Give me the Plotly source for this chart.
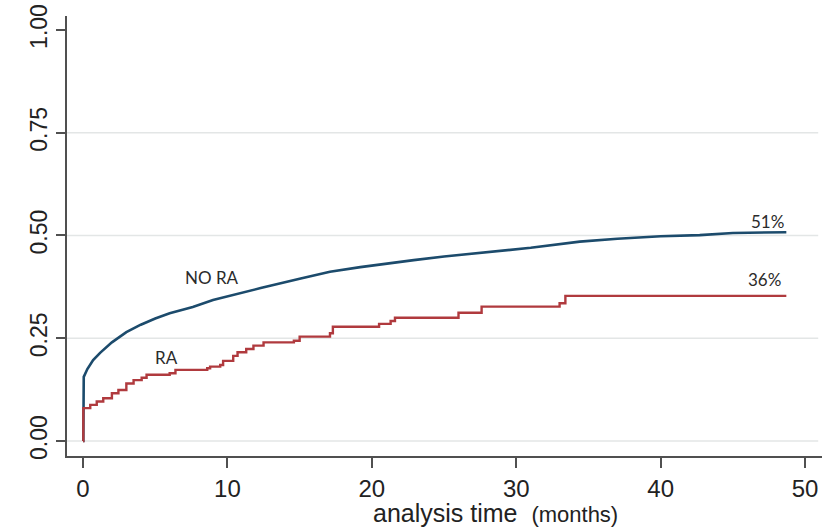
import plotly.graph_objects as go

# ---- data ----
no_ra_time = [0, 0.02, 0.05, 0.3, 0.7, 1.2, 2, 3, 4, 5, 6, 7.6, 9, 10, 12.3, 15, 17.1,
              19.2, 21, 22.9, 25, 28.65, 31, 34.4, 37, 40, 42.7, 45, 48.7]
no_ra_value = [0, 0.0, 0.156, 0.175, 0.197, 0.215, 0.24, 0.265, 0.283, 0.298, 0.311, 0.326,
               0.343, 0.352, 0.372, 0.395, 0.412, 0.423, 0.432, 0.44, 0.449, 0.461, 0.47,
               0.485, 0.492, 0.498, 0.501, 0.506, 0.508]

ra_time = [0, 0.02, 0.5, 0.95, 1.4, 2.0, 2.45, 3.0, 3.5, 4.06, 4.4, 6.0, 6.4, 8.6, 8.8,
           9.5, 9.7, 10.4, 10.7, 11.3, 11.8, 12.5, 14.6, 15.0, 17.1, 17.3, 20.5, 21.3,
           21.6, 26.0, 27.6, 33.0, 33.4, 48.7]
ra_value = [0, 0.080, 0.088, 0.096, 0.104, 0.116, 0.124, 0.140, 0.148, 0.154, 0.161, 0.165,
            0.173, 0.177, 0.181, 0.185, 0.195, 0.207, 0.216, 0.224, 0.232, 0.240, 0.244,
            0.254, 0.262, 0.278, 0.285, 0.292, 0.300, 0.312, 0.327, 0.335, 0.353, 0.353]

x_ticks = [0, 10, 20, 30, 40, 50]
y_ticks = [0, 0.25, 0.5, 0.75, 1.0]
y_tick_text = ["0.00", "0.25", "0.50", "0.75", "1.00"]
grid_values = [0, 0.25, 0.5, 0.75]

labels = [
    ("NO RA", 8.9, 0.397),
    ("RA", 5.75, 0.204),
    ("51%", 47.4, 0.535),
    ("36%", 47.2, 0.392),
]

BLUE = "#1c4b6c"
RED = "#b03a3e"
AXIS = "#505050"

fig = go.Figure()
fig.add_trace(go.Scatter(x=no_ra_time, y=no_ra_value, mode="lines",
                         line=dict(color=BLUE, width=2.6), name="NO RA"))
fig.add_trace(go.Scatter(x=ra_time, y=ra_value, mode="lines",
                         line=dict(color=RED, width=2.4, shape="hv"), name="RA"))

for g in grid_values:
    fig.add_shape(type="line", xref="paper", yref="y", x0=0, x1=0.995, y0=g, y1=g,
                  line=dict(color="#e3e6e6", width=1.6), layer="below")

for text, xv, yv in labels:
    fig.add_annotation(x=xv, y=yv, xref="x", yref="y", text=text, showarrow=False,
                       font=dict(family="Lato", size=17, color="#2b2b2b"))

fig.add_annotation(xref="paper", yref="paper", x=0.567, y=-0.13, yanchor="middle",
                   text="analysis time&nbsp; <span style='font-size:22px'>(months)</span>",
                   showarrow=False,
                   font=dict(family="Liberation Sans", size=25, color="#222222"))

fig.update_layout(
    width=825, height=529,
    margin=dict(l=67, r=3, t=16, b=73),
    paper_bgcolor="white", plot_bgcolor="white",
    showlegend=False,
    font=dict(family="Liberation Sans", color="#222222"),
)
fig.update_xaxes(range=[-1.11, 51.17], tickvals=x_ticks, showgrid=False, zeroline=False,
                 showline=True, linecolor=AXIS, linewidth=1.6, ticks="outside",
                 ticklen=10, tickwidth=1.6, tickcolor=AXIS,
                 tickfont=dict(size=24, color="#222222"))
fig.update_yaxes(range=[-0.0365, 1.034], tickvals=y_ticks, ticktext=y_tick_text,
                 tickangle=-90, showgrid=False, zeroline=False,
                 showline=True, linecolor=AXIS, linewidth=1.6, ticks="outside",
                 ticklen=9, tickwidth=1.6, tickcolor=AXIS,
                 tickfont=dict(size=23, color="#222222"))

fig.write_html("out.html")
